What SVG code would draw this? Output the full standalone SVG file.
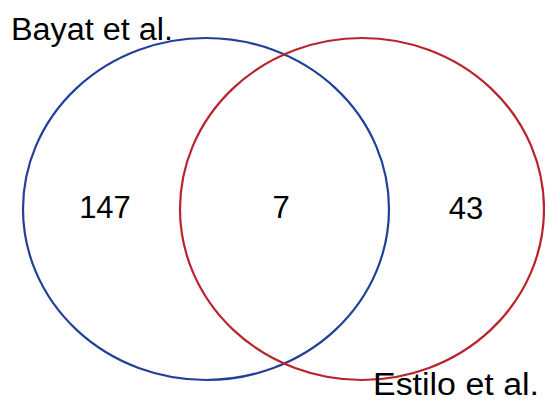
<svg xmlns="http://www.w3.org/2000/svg" width="545" height="408" viewBox="0 0 545 408">
<style>
text{font-family:"Liberation Sans",Arial,sans-serif;font-size:31px;fill:#000}
.c{fill:none;stroke-width:2.2}
</style>
<rect width="545" height="408" fill="#fff"/>
<g id="connectors"></g>
<g id="bayat"><ellipse class="c" cx="206" cy="209" rx="183" ry="171" stroke="#22409a"/></g>
<g id="estilo"><ellipse class="c" cx="362" cy="209" rx="182" ry="171" stroke="#b8232c"/></g>
<g id="label-bayat"><text x="11" y="40" textLength="162" lengthAdjust="spacingAndGlyphs">Bayat et al.</text></g>
<g id="label-estilo"><text x="373" y="395" textLength="166" lengthAdjust="spacingAndGlyphs">Estilo et al.</text></g>
<g id="n147"><text x="105" y="218" text-anchor="middle">147</text></g>
<g id="n7"><text x="281" y="218" text-anchor="middle">7</text></g>
<g id="n43"><text x="466" y="219" text-anchor="middle">43</text></g>
</svg>
